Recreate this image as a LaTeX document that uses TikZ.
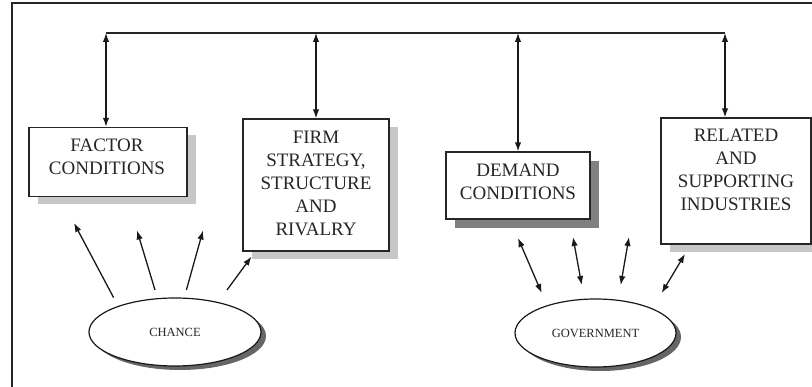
\documentclass[tikz,border=0pt]{standalone}
\usepackage{fontspec}
\setmainfont{Liberation Serif}
\usetikzlibrary{arrows.meta,shadows,shapes.geometric}
\begin{document}
\begin{tikzpicture}[x=1pt,y=-1pt,
  boxnode/.style={draw=black!85, line width=1.4pt, fill=white, inner sep=0pt},
  lightshadow/.style={general shadow={fill=black!22, shadow xshift=9pt, shadow yshift=-8pt}},
  darkshadow/.style={general shadow={fill=black!50, shadow xshift=9pt, shadow yshift=-9pt}},
  boxtext/.style={align=center, font=\fontsize{19}{23}\selectfont, text=black!85, inner sep=0pt},
  ovalnode/.style={ellipse, draw=black!90, line width=1.2pt, fill=white, inner sep=0pt,
    general shadow={fill=black!60, shadow xshift=5pt, shadow yshift=-4pt},
    font=\fontsize{12.5}{14}\selectfont, text=black!85},
  onearrow/.style={-{Latex[length=9pt,width=6.5pt]}, line width=1.3pt, draw=black!90},
  twoarrow/.style={{Latex[length=9pt,width=6.5pt]}-{Latex[length=9pt,width=6.5pt]}, line width=1.3pt, draw=black!90}]

\useasboundingbox (0,0) rectangle (812,387);
\fill[white] (0,0) rectangle (812,387);
\draw[line width=1.5pt, black!85] (12,387) -- (12,3) -- (812,3);

% boxes
\node[boxnode, lightshadow, minimum width=158, minimum height=69] (fact) at (108,162) {};
\node[boxnode, lightshadow, minimum width=146, minimum height=132] (firm) at (316,185) {};
\node[boxnode, darkshadow, minimum width=144, minimum height=67] (dem) at (518,185.5) {};
\node[boxnode, lightshadow, minimum width=150, minimum height=126] (rel) at (736,181) {};

\node[boxtext] (factT) at (107,156.5) {FACTOR\\CONDITIONS};
\node[boxtext] (firmT) at (316,183) {FIRM\\STRATEGY,\\STRUCTURE\\AND\\RIVALRY};
\node[boxtext] (demT) at (518,181.5) {DEMAND\\CONDITIONS};
\node[boxtext] (relT) at (736,170) {RELATED\\AND\\SUPPORTING\\INDUSTRIES};

% ellipses
\node[ovalnode, minimum width=172, minimum height=68] (chance) at (175,332) {CHANCE};
\node[ovalnode, minimum width=161, minimum height=68] (gov) at (595.5,333) {GOVERNMENT};

% top bus
\coordinate (busL) at (106,33);
\coordinate (busR) at (725,33);
\draw[line width=1.3pt, black!85] (busL) -- (busR);
\draw[twoarrow] (busL) -- (busL |- fact.north);
\draw[twoarrow] (firm.north |- busL) -- (firm.north);
\draw[twoarrow] (dem.north |- busL) -- (dem.north);
\draw[twoarrow] (busR) -- (busR |- rel.north);

% chance arrows
\coordinate (cs1) at (113.6,297.6); \coordinate (ce1) at (74,223);
\coordinate (cs2) at (155,290);     \coordinate (ce2) at (137,230.5);
\coordinate (cs3) at (186.4,290);   \coordinate (ce3) at (203,230.5);
\coordinate (cs4) at (227,290);     \coordinate (ce4) at (251.5,256.6);
\draw[onearrow] (cs1) -- (ce1);
\draw[onearrow] (cs2) -- (ce2);
\draw[onearrow] (cs3) -- (ce3);
\draw[onearrow] (cs4) -- (ce4);

% government arrows
\coordinate (gs1) at (541.7,293); \coordinate (ge1) at (518,238);
\coordinate (gs2) at (581.7,285); \coordinate (ge2) at (573,237);
\coordinate (gs3) at (620.7,285); \coordinate (ge3) at (629,237);
\coordinate (gs4) at (661.7,293); \coordinate (ge4) at (685,254);
\draw[twoarrow] (gs1) -- (ge1);
\draw[twoarrow] (gs2) -- (ge2);
\draw[twoarrow] (gs3) -- (ge3);
\draw[twoarrow] (gs4) -- (ge4);
\end{tikzpicture}
\end{document}
